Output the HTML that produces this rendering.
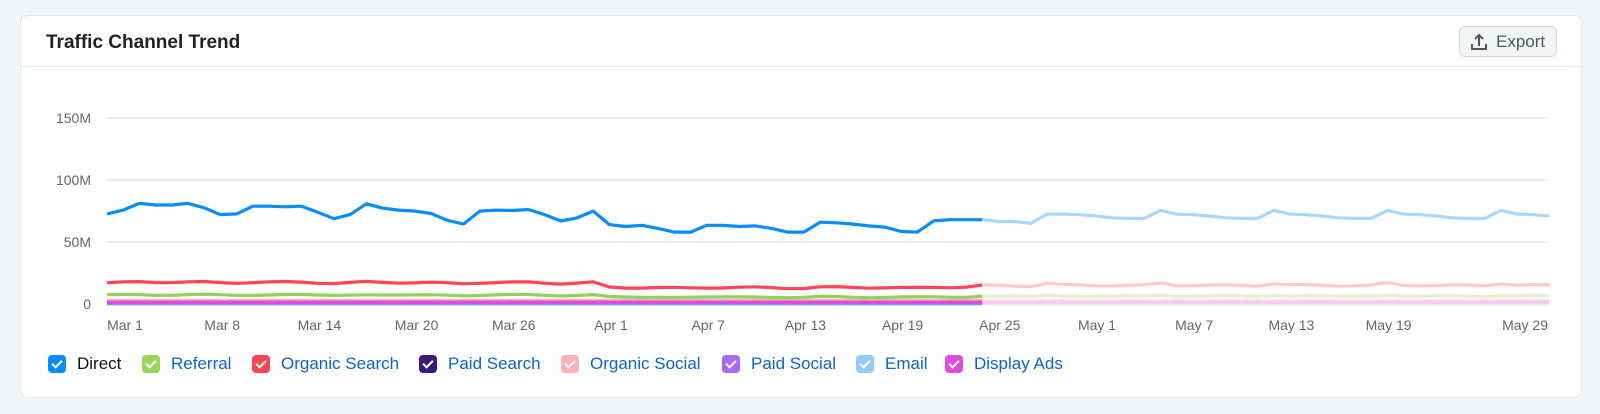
<!DOCTYPE html>
<html><head><meta charset="utf-8"><style>
body{margin:0;width:1600px;height:414px;background:#f3f4f8;font-family:"Liberation Sans",sans-serif;overflow:hidden;position:relative}
.card{position:absolute;left:20px;top:15px;width:1562px;height:383px;background:#fff;border:1px solid #e3e5ea;border-radius:8px;box-sizing:border-box}
.title{position:absolute;left:25px;top:16px;font-size:19px;font-weight:bold;color:#222}
.hr{position:absolute;left:0;right:0;top:50px;border-top:1px solid #e5e7eb}
.btn{position:absolute;left:1438px;top:10px;width:98px;height:31px;box-sizing:border-box;border:1px solid #d4d6db;border-radius:6px;background:#f3f4f6;color:#555;font-size:17px}
.btn span{position:absolute;left:36px;top:5px}
.lg{position:absolute;top:339px;height:18px;font-size:17px;color:#0f62c9}
.lg .b{position:absolute;left:0;top:0;width:18px;height:18px;border-radius:4px}
.lg .b::after{content:"";position:absolute;left:6px;top:3px;width:4px;height:8px;border:solid #fff;border-width:0 2px 2px 0;transform:rotate(45deg)}
.lg .t{position:absolute;left:29px;top:0px;white-space:nowrap;line-height:18px}
</style></head><body>
<div class="card">
<div class="title">Traffic Channel Trend</div>
<div class="hr"></div>
<div class="btn"><svg width="20" height="20" style="position:absolute;left:9px;top:5px" viewBox="0 0 20 20" fill="none" stroke="#555" stroke-width="2"><path d="M10 14V3M6 7l4-4 4 4M3 12v5h14v-5"/></svg><span>Export</span></div>
<div class="lg" style="left:27px"><div class="b" style="background:#0a8cff"></div><div class="t" style="color:#111">Direct</div></div>
<div class="lg" style="left:121px"><div class="b" style="background:#9ad65e"></div><div class="t">Referral</div></div>
<div class="lg" style="left:231px"><div class="b" style="background:#ff4553"></div><div class="t">Organic Search</div></div>
<div class="lg" style="left:398px"><div class="b" style="background:#3d1a7a"></div><div class="t">Paid Search</div></div>
<div class="lg" style="left:540px"><div class="b" style="background:#ffb3b6"></div><div class="t">Organic Social</div></div>
<div class="lg" style="left:701px"><div class="b" style="background:#a66af5"></div><div class="t">Paid Social</div></div>
<div class="lg" style="left:835px"><div class="b" style="background:#92ccff"></div><div class="t">Email</div></div>
<div class="lg" style="left:924px"><div class="b" style="background:#e04bd9"></div><div class="t">Display Ads</div></div>
</div>
<svg id="ch" width="1600" height="414" style="position:absolute;left:0;top:0" font-family="Liberation Sans, sans-serif" font-size="14" fill="#666">
<g stroke="#e6e7ec" stroke-width="1.5">
<line x1="107" x2="1548" y1="118" y2="118"/><line x1="107" x2="1548" y1="180" y2="180"/><line x1="107" x2="1548" y1="242" y2="242"/>
</g>
<g text-anchor="end"><text x="91" y="123">150M</text><text x="91" y="185">100M</text><text x="91" y="247">50M</text><text x="91" y="309">0</text></g>
<g text-anchor="middle" id="xl"></g>
<g id="lines" fill="none" stroke-width="3.2" stroke-linejoin="round"></g>
</svg>
<script>
var S=16.207,X0=107;function y(v){return 304-v*1.24}
var d=[72.7,75.7,81.1,79.8,79.8,81.1,77.6,72.1,72.7,78.9,78.9,78.4,78.9,74.0,68.8,72.1,80.8,77.3,75.7,74.9,73.0,67.5,64.5,74.9,75.7,75.4,76.2,72.1,66.9,69.4,74.9,64,62.5,63.5,61,58,58,63.5,63.5,62.5,63,61,58,58,66,65.5,64.5,63,62,58.5,58,67,68,68,68];
var w=[72.5,72,71,69.5,69,69,75.5];var l=[68,66.5,66.5,65,72.5,72.5,72,71,69.5,69,69,75.5];
while(l.length<36){l=l.concat(w)}l=l.slice(0,36);
var all=d.concat(l.slice(1));
var N=all.length-1;
var r=[],g=[];
for(var i=0;i<=N;i++){var b=i<31?17.3:13.3;if(i>=54)b=15;var n=Math.sin(i*1.3)*0.6+(all[i]-(i<31?75:i<54?63:70))*0.08;
var rv=b+n;if(i>=54&&(i-65)%7==0)rv+=1.3;r.push(rv);g.push(rv*0.42+Math.cos(i)*0.3);}
function p(a,s,e){var t="";for(var i=s;i<=e;i++){t+=(i==s?"M":"L")+(X0+i*S).toFixed(1)+" "+y(a[i]).toFixed(1)}return t}
function c(v){var a=[];for(var i=0;i<=N;i++)a.push(v);return a}
var L=document.getElementById("lines"),h="";
function add(a,dark,light){h+='<path d="'+p(a,54,N)+'" stroke="'+light+'"/>';h+='<path d="'+p(a,0,54)+'" stroke="'+dark+'"/>'}
add(c(0.2),"#6cb8ff","#e0f0ff");
add(c(0.8),"#a66af5","#ecdcff");
add(c(3),"#ffb3b6","#ffe6e7");
add(c(1.5),"#e04bd9","#f6c9f1");
add(g,"#8fd45a","#dff2cd");
add(r,"#ff4553","#ffc9ca");
add(all,"#0a8cff","#a9d8ff");
L.innerHTML=h;
var lab=["Mar 1","Mar 8","Mar 14","Mar 20","Mar 26","Apr 1","Apr 7","Apr 13","Apr 19","Apr 25","May 1","May 7","May 13","May 19"],xs="";
for(var k=0;k<lab.length;k++)xs+='<text x="'+(125+97.2*k)+'" y="330">'+lab[k]+'</text>';
xs+='<text x="1548" y="330" text-anchor="end">May 29</text>';
document.getElementById("xl").innerHTML=xs;
</script>
</body></html>
